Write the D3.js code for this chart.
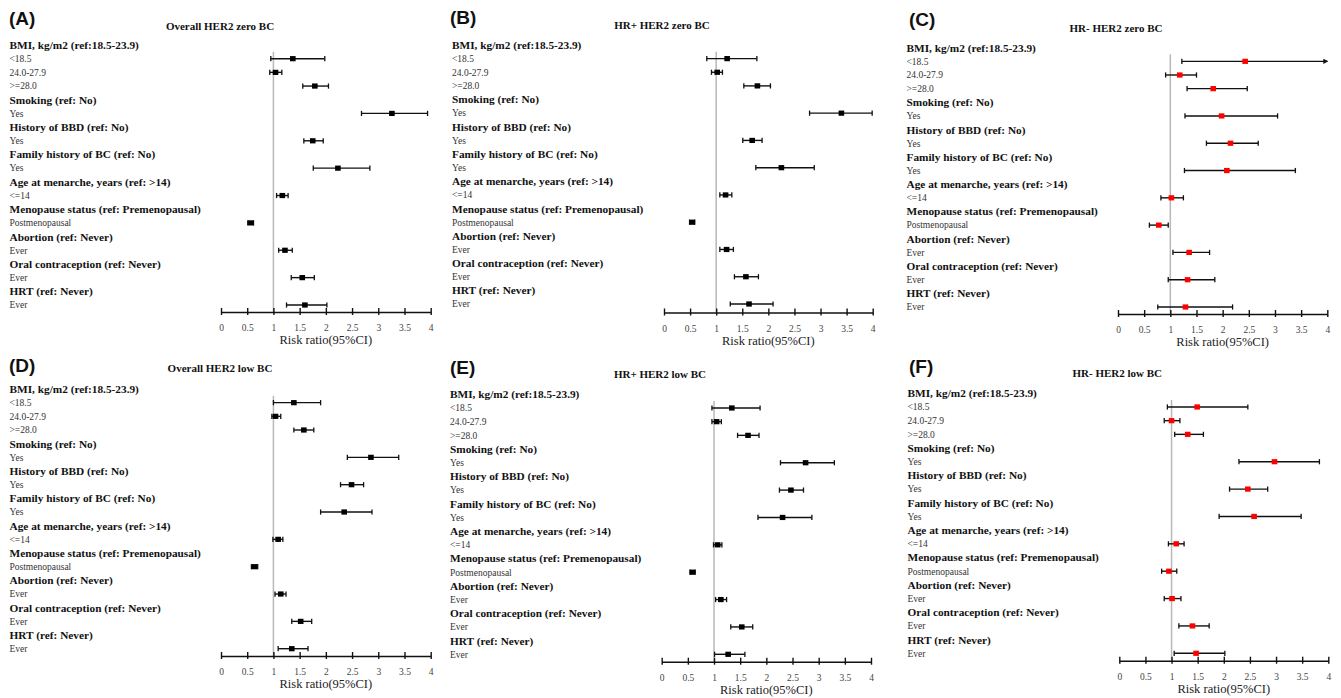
<!DOCTYPE html>
<html>
<head>
<meta charset="utf-8">
<script src="https://cdn.jsdelivr.net/npm/d3@7"></script>
<style>
  html, body { margin: 0; padding: 0; background: #fff; }
  svg { display: block; }
</style>
</head>
<body>
<svg id="chart" width="1341" height="698"></svg>
<script>
// ---- Row structure shared by all six forest plots ----
const groupHeaders = [
  "BMI, kg/m2 (ref:18.5-23.9)",
  "Smoking (ref: No)",
  "History of BBD (ref: No)",
  "Family history of BC (ref: No)",
  "Age at menarche, years (ref: >14)",
  "Menopause status (ref: Premenopausal)",
  "Abortion (ref: Never)",
  "Oral contraception (ref: Never)",
  "HRT (ref: Never)"
];
const groupLevels = [
  ["<18.5", "24.0-27.9", ">=28.0"],
  ["Yes"],
  ["Yes"],
  ["Yes"],
  ["<=14"],
  ["Postmenopausal"],
  ["Ever"],
  ["Ever"],
  ["Ever"]
];

// ---- Axis ----
const tickValues = [0, 0.5, 1, 1.5, 2, 2.5, 3, 3.5, 4];
const tickLabels = ["0", "0.5", "1", "1.5", "2", "2.5", "3", "3.5", "4"];
const axisTitle = "Risk ratio(95%CI)";
const axisDomain = [0, 4];
const nullValue = 1;

// ---- Panels ----
const panelLetters = ["(A)", "(B)", "(C)", "(D)", "(E)", "(F)"];
const panelTitles = [
  "Overall HER2 zero BC",
  "HR+  HER2 zero BC",
  "HR- HER2 zero BC",
  "Overall HER2 low BC",
  "HR+ HER2 low BC",
  "HR- HER2 low BC"
];

// Risk ratios with 95% CI, one value per level row (11 rows)
const zeroOverallRR = [1.37, 1.04, 1.79, 3.26, 1.75, 2.23, 1.17, 0.57, 1.22, 1.55, 1.60];
const zeroOverallLo = [0.95, 0.93, 1.56, 2.68, 1.58, 1.76, 1.06, 0.51, 1.10, 1.34, 1.25];
const zeroOverallHi = [1.98, 1.16, 2.05, 3.94, 1.95, 2.84, 1.28, 0.62, 1.36, 1.78, 2.02];

const zeroHRposRR = [1.21, 1.02, 1.79, 3.40, 1.69, 2.25, 1.18, 0.54, 1.20, 1.57, 1.63];
const zeroHRposLo = [0.82, 0.91, 1.53, 2.79, 1.51, 1.76, 1.07, 0.49, 1.07, 1.35, 1.27];
const zeroHRposHi = [1.78, 1.12, 2.04, 3.99, 1.88, 2.88, 1.30, 0.59, 1.33, 1.81, 2.09];

const zeroHRnegRR = [2.43, 1.18, 1.82, 1.98, 2.15, 2.08, 1.02, 0.78, 1.36, 1.33, 1.29];
const zeroHRnegLo = [1.22, 0.91, 1.32, 1.28, 1.69, 1.27, 0.82, 0.60, 1.05, 0.96, 0.76];
const zeroHRnegHi = [4.00, 1.50, 2.47, 3.05, 2.68, 3.39, 1.25, 0.96, 1.75, 1.85, 2.19];

const lowOverallRR = [1.39, 1.04, 1.58, 2.86, 2.49, 2.35, 1.09, 0.64, 1.14, 1.52, 1.35];
const lowOverallLo = [1.00, 0.97, 1.39, 2.41, 2.28, 1.90, 0.99, 0.58, 1.03, 1.35, 1.09];
const lowOverallHi = [1.90, 1.14, 1.77, 3.39, 2.72, 2.88, 1.18, 0.70, 1.24, 1.73, 1.66];

const lowHRposRR = [1.34, 1.05, 1.65, 2.75, 2.47, 2.31, 1.07, 0.59, 1.13, 1.53, 1.27];
const lowHRposLo = [0.96, 0.96, 1.45, 2.27, 2.25, 1.84, 0.99, 0.54, 1.03, 1.32, 1.01];
const lowHRposHi = [1.88, 1.14, 1.86, 3.30, 2.71, 2.87, 1.15, 0.64, 1.24, 1.74, 1.59];

const lowHRnegRR = [1.49, 1.00, 1.31, 2.97, 2.46, 2.58, 1.09, 0.95, 1.01, 1.40, 1.47];
const lowHRnegLo = [0.92, 0.86, 1.06, 2.29, 2.11, 1.91, 0.94, 0.81, 0.86, 1.14, 1.05];
const lowHRnegHi = [2.46, 1.16, 1.61, 3.83, 2.84, 3.48, 1.24, 1.10, 1.18, 1.72, 2.02];

const panelRR = [zeroOverallRR, zeroHRposRR, zeroHRnegRR, lowOverallRR, lowHRposRR, lowHRnegRR];
const panelLo = [zeroOverallLo, zeroHRposLo, zeroHRnegLo, lowOverallLo, lowHRposLo, lowHRnegLo];
const panelHi = [zeroOverallHi, zeroHRposHi, zeroHRnegHi, lowOverallHi, lowHRposHi, lowHRnegHi];
const panelColors = ["#000000", "#000000", "#ff0000", "#000000", "#000000", "#ff0000"];

// ---- Layout of each panel on the page ----
const layouts = [
  { labelX: 9.5,  x0: 221,   x1: 430.7,  rowTop: 45,    rowBottom: 305,   axisY: 312,   titleX: 220,    titleY: 25.7,  letterX: 9,   letterY: 18 },
  { labelX: 452,  x0: 664,   x1: 872.7,  rowTop: 45,    rowBottom: 304,   axisY: 312.5, titleX: 662,    titleY: 25,    letterX: 450, letterY: 17 },
  { labelX: 906.5,x0: 1118,  x1: 1327.3, rowTop: 47.7,  rowBottom: 307,   axisY: 314,   titleX: 1116,   titleY: 27.7,  letterX: 909, letterY: 19 },
  { labelX: 9.5,  x0: 221,   x1: 430.7,  rowTop: 389,   rowBottom: 648.7, axisY: 656,   titleX: 220,    titleY: 368.3, letterX: 9,   letterY: 365 },
  { labelX: 450,  x0: 661.7, x1: 871,    rowTop: 394.3, rowBottom: 654.3, axisY: 661.7, titleX: 660,    titleY: 374,   letterX: 450, letterY: 366.7 },
  { labelX: 907.5,x0: 1119.3,x1: 1328.3, rowTop: 393.3, rowBottom: 653.3, axisY: 660.7, titleX: 1117.3, titleY: 372.7, letterX: 909, letterY: 366 }
];

const serif = "'Liberation Serif', 'Times New Roman', serif";
const sans = "'Liberation Sans', Arial, sans-serif";

// Flatten groups into display rows
const rows = [];
groupHeaders.forEach((h, gi) => {
  rows.push({ text: h, header: true });
  groupLevels[gi].forEach(l => rows.push({ text: l, header: false }));
});
const levelRows = rows.map((r, i) => ({ ...r, idx: i })).filter(r => !r.header);

const svg = d3.select("#chart");

panelTitles.forEach((title, p) => {
  const L = layouts[p];
  const g = svg.append("g");

  const y = d3.scalePoint().domain(d3.range(rows.length)).range([L.rowTop, L.rowBottom]);
  const x = d3.scaleLinear().domain(axisDomain).range([L.x0, L.x1]);

  // panel letter
  g.append("text")
    .attr("x", L.letterX).attr("y", L.letterY)
    .attr("dy", "0.36em")
    .style("font-family", sans).style("font-weight", "bold").style("font-size", "19px")
    .attr("fill", "#111")
    .text(panelLetters[p]);

  // panel title
  g.append("text")
    .attr("x", L.titleX).attr("y", L.titleY)
    .attr("dy", "0.35em").attr("text-anchor", "middle")
    .style("font-family", serif).style("font-weight", "bold").style("font-size", "11px")
    .attr("fill", "#111")
    .text(title);

  // row labels
  g.selectAll("text.row").data(rows).enter().append("text")
    .attr("class", "row")
    .attr("x", L.labelX)
    .attr("y", (d, i) => y(i))
    .attr("dy", "0.35em")
    .style("font-family", serif)
    .style("font-weight", d => d.header ? "bold" : "normal")
    .style("font-size", d => d.header ? "11.3px" : "9.5px")
    .attr("fill", d => d.header ? "#111" : "#333")
    .text(d => d.text);

  // reference line at RR = 1
  g.append("line")
    .attr("x1", x(nullValue)).attr("x2", x(nullValue))
    .attr("y1", y(1) - 7).attr("y2", L.axisY)
    .attr("stroke", "#b8b8b8").attr("stroke-width", 1.5);

  // x axis
  const axis = d3.axisBottom(x).tickValues(tickValues)
    .tickFormat((d, i) => tickLabels[i]).tickSizeInner(3).tickSizeOuter(0);
  const ax = g.append("g").attr("transform", `translate(0,${L.axisY})`).call(axis);
  ax.select(".domain").attr("stroke", "#111").attr("stroke-width", 1.6);
  ax.selectAll(".tick line").attr("y1", -4).attr("y2", 3).attr("stroke", "#111").attr("stroke-width", 1.4);
  ax.selectAll(".tick text")
    .attr("y", 16).attr("dy", "0.35em")
    .style("font-family", serif).style("font-size", "9.5px")
    .attr("fill", "#444");
  g.append("text")
    .attr("x", (L.x0 + L.x1) / 2).attr("y", L.axisY + 28)
    .attr("dy", "0.35em").attr("text-anchor", "middle")
    .style("font-family", serif).style("font-size", "12.5px")
    .attr("fill", "#222")
    .text(axisTitle);

  // estimates
  const est = levelRows.map((r, k) => ({
    yi: r.idx, rr: panelRR[p][k], lo: panelLo[p][k], hi: panelHi[p][k]
  }));
  const marks = g.selectAll("g.est").data(est).enter().append("g").attr("class", "est");
  marks.append("line")
    .attr("x1", d => x(d.lo)).attr("x2", d => x(d.hi))
    .attr("y1", d => y(d.yi)).attr("y2", d => y(d.yi))
    .attr("stroke", "#111").attr("stroke-width", 1.4);
  marks.append("line")
    .attr("x1", d => x(d.lo)).attr("x2", d => x(d.lo))
    .attr("y1", d => y(d.yi) - 2.6).attr("y2", d => y(d.yi) + 2.6)
    .attr("stroke", "#111").attr("stroke-width", 1.3);
  // right cap, or an arrow where the interval runs past the axis
  marks.filter(d => d.hi < axisDomain[1]).append("line")
    .attr("x1", d => x(d.hi)).attr("x2", d => x(d.hi))
    .attr("y1", d => y(d.yi) - 2.6).attr("y2", d => y(d.yi) + 2.6)
    .attr("stroke", "#111").attr("stroke-width", 1.3);
  marks.filter(d => d.hi >= axisDomain[1]).append("path")
    .attr("d", d => {
      const xe = x(d.hi), yc = y(d.yi);
      return `M${xe + 1},${yc} L${xe - 4},${yc - 2.6} L${xe - 4},${yc + 2.6} Z`;
    })
    .attr("fill", "#111");
  marks.append("rect")
    .attr("x", d => x(d.rr) - 2.8).attr("y", d => y(d.yi) - 2.6)
    .attr("width", 5.6).attr("height", 5.2)
    .attr("fill", panelColors[p]);
});
</script>
</body>
</html>
